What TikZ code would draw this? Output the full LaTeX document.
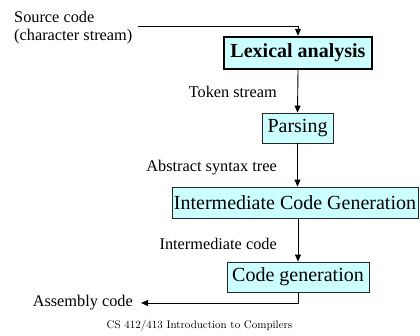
\documentclass[tikz,border=0pt]{standalone}
\usepackage{fontspec}
\setmainfont{Liberation Serif}
\newfontfamily\footfont{Latin Modern Roman}
\usetikzlibrary{arrows.meta}
\definecolor{boxfill}{HTML}{CCFFFF}
\begin{document}
\begin{tikzpicture}[x=1pt,y=-1pt,
  stagebox/.style={draw=black!85,line width=0.9pt,fill=boxfill,inner sep=0pt,
    font=\fontsize{20}{22}\selectfont,minimum height=31},
  lbl/.style={inner sep=0pt,font=\fontsize{16.3}{18}\selectfont},
  flow/.style={line width=0.9pt,-{Triangle[length=7pt,width=6pt]}}]
\path[use as bounding box,fill=white] (0,0) rectangle (420,335);
\node[stagebox,line width=2.4pt,draw=black,minimum width=148,minimum height=32,font=\fontsize{20}{22}\selectfont\bfseries] (lex) at (298,53) {Lexical analysis};
\node[stagebox,minimum width=71,minimum height=30] (pars) at (297.5,128) {Parsing};
\node[stagebox,minimum width=246] (icg) at (295,202.5) {Intermediate Code Generation};
\node[stagebox,minimum width=142,minimum height=30] (cg) at (298,277) {Code generation};
\node[lbl,anchor=west] (src1) at (14,17) {Source code};
\node[lbl,anchor=west] (src2) at (14,37) {(character stream)};
\node[lbl,anchor=east] (tok) at (277,92) {Token stream};
\node[lbl,anchor=east] (ast) at (277,168) {Abstract syntax tree};
\node[lbl,anchor=east] (ic) at (277,244) {Intermediate code};
\node[lbl,anchor=east] (asm) at (133,303) {Assembly code};
\node[inner sep=0pt,font=\footfont\fontsize{11}{13}\selectfont] (foot) at (199.5,326) {CS 412/413 Introduction to Compilers};
\coordinate (srcstart) at (138,26);
\coordinate (asmend) at (141,303);
\draw[flow] (srcstart) -| (lex.north);
\draw[flow] (lex.south) -- (pars.north);
\draw[flow] (pars.south) -- (pars.south |- icg.north);
\draw[flow] (lex.south |- icg.south) -- (cg.north);
\draw[flow] (cg.south) |- (asmend);
\end{tikzpicture}
\end{document}
